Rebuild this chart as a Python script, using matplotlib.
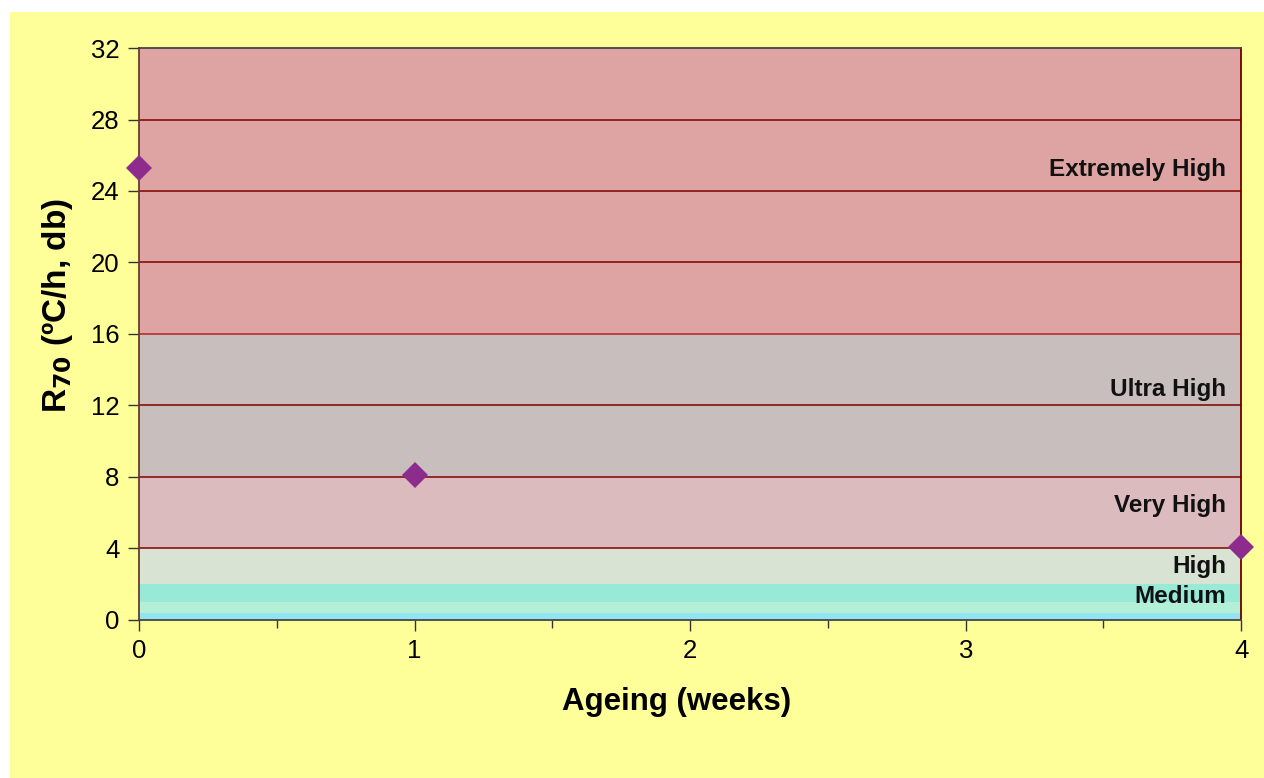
import matplotlib
matplotlib.use("Agg")
import matplotlib.pyplot as plt
from matplotlib.patches import Rectangle

plt.rcParams['font.family'] = ['Liberation Sans', 'DejaVu Sans']

# self-heating classes (R70 limits) and their fill colours
band_edges = [0, 0.4, 1, 2, 4, 8, 16, 32]
band_colors = ['#92E4F2', '#B4F0D8', '#98EAD6', '#D9E3D3', '#DBBBBE', '#C8BEBE', '#DEA4A4']
band_names = ['Medium', 'High', 'Very High', 'Ultra High', 'Extremely High']
band_label_y = [1.34, 2.97, 6.4, 12.9, 25.2]

# measured R70 after ageing
ageing_weeks = [0, 1, 4]
r70 = [25.3, 8.1, 4.1]

fig = plt.figure(figsize=(12.64, 7.78), dpi=100)
fig.patch.set_facecolor('white')
fig.patches.append(Rectangle((10 / 1264, 0), 1, 1 - 12 / 778, transform=fig.transFigure,
                             facecolor='#FFFF99', edgecolor='none', zorder=-10))

ax = fig.add_axes([0.110, 0.2031, 0.872, 0.7352])
ax.set_xlim(0, 4)
ax.set_ylim(0, 32)

for lo, hi, c in zip(band_edges[:-1], band_edges[1:], band_colors):
    ax.axhspan(lo, hi, color=c, zorder=0, lw=0)

# gridlines
for y in range(4, 32, 4):
    ax.axhline(y, color='#800000' if y != 16 else '#B22222', lw=1.1, zorder=1)

for name, y in zip(band_names, band_label_y):
    ax.text(3.945, y, name, ha='right', va='center', fontsize=17.5,
            fontweight='bold', color='#111111', zorder=2)

ax.plot(ageing_weeks, r70, linestyle='none', marker='D', markersize=13.5,
        color='#8E2C8E', markeredgewidth=0, zorder=5, clip_on=False)

ax.set_yticks(range(0, 33, 4))
ax.set_xticks(range(0, 5))
ax.set_xticks([0.5, 1.5, 2.5, 3.5], minor=True)
ax.tick_params(axis='both', which='major', labelsize=18.5, length=8, width=1,
               direction='out', color='#333333', pad=6)
ax.tick_params(axis='x', which='minor', length=6, width=1, color='#333333')

ax.spines['left'].set_color('#6B3A2A')
ax.spines['bottom'].set_color('#444444')
ax.spines['top'].set_color('#444444')
ax.spines['right'].set_color('#6B0000')
for s in ax.spines.values():
    s.set_linewidth(1.3)

ax.set_xlabel('Ageing (weeks)', fontsize=22.5, fontweight='bold')
ax.set_ylabel('R$_{\\mathbf{70}}$ (ºC/h, db)', fontsize=24, fontweight='bold')
ax.xaxis.set_label_coords(0.488, -0.117)
ax.yaxis.set_label_coords(-0.058, 0.55)

fig.savefig('out.png', dpi=100, facecolor=fig.get_facecolor())
